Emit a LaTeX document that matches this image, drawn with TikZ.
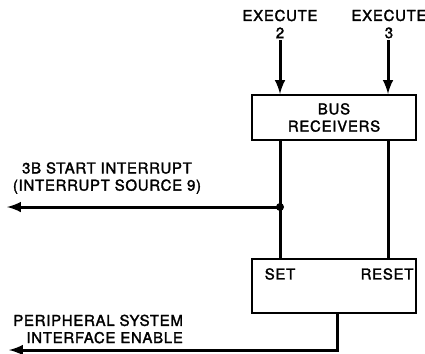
\documentclass[tikz,border=0pt]{standalone}
\usepackage{fontspec}
\setmainfont{TeX Gyre Heros}
\newfontfamily\lblfont{TeX Gyre Heros}[LetterSpace=5,FakeBold=2]
\usetikzlibrary{positioning,calc}
\tikzstyle{block}=[draw, line width=.04cm, minimum width=3.28cm, inner sep=0pt]
\tikzstyle{label}=[font=\lblfont\fontsize{8.5}{9.8}\selectfont, inner sep=1pt]
\tikzstyle{signal}=[line width=.06cm]
\tikzset{x=.02cm}
\tikzset{y=-.02cm}
\begin{document}
\begin{tikzpicture}
  \useasboundingbox (0,0) rectangle (425,353);
  \draw (334,117.5) node[block,minimum height=.9cm,label,align=center] (bus) {BUS\\RECEIVERS};
  \draw (334,286) node[block,minimum height=1.08cm] (latch) {};
  \draw (280,274) node[label] (set) {SET};
  \draw (387,274) node[label] (reset) {RESET};

  \draw (280,24) node[label,align=center] (exec2) {EXECUTE\\2};
  \draw (389,24) node[label,align=center] (exec3) {EXECUTE\\3};

  \draw (107,178) node[label,align=center] (start) {3B START INTERRUPT\\(INTERRUPT SOURCE 9)};
  \draw (185,329) node[label,align=right,anchor=east] (pse) {PERIPHERAL SYSTEM\\INTERFACE ENABLE};

  \coordinate (j) at (280,207);
  \coordinate (startend) at (7,207);
  \coordinate (pseend) at (9,350);

  %% inputs
  \draw[-latex,signal] (exec2.south) -- (exec2.south |- bus.north);
  \draw[-latex,signal] ([xshift=-.02cm]exec3.south) -- ([xshift=-.02cm]exec3.south |- bus.north);
  %% receivers to latch
  \draw[signal] (bus.south -| j) -- (latch.north -| j);
  \draw[signal] ([xshift=-.02cm]bus.south -| exec3.south) -- ([xshift=-.02cm]latch.north -| exec3.south);
  \fill (j) circle (.08cm);
  \draw[-latex,signal] (j) -- (startend);
  %% output
  \draw[-latex,signal] ([xshift=.06cm]latch.south) |- (pseend);
\end{tikzpicture}
\end{document}
